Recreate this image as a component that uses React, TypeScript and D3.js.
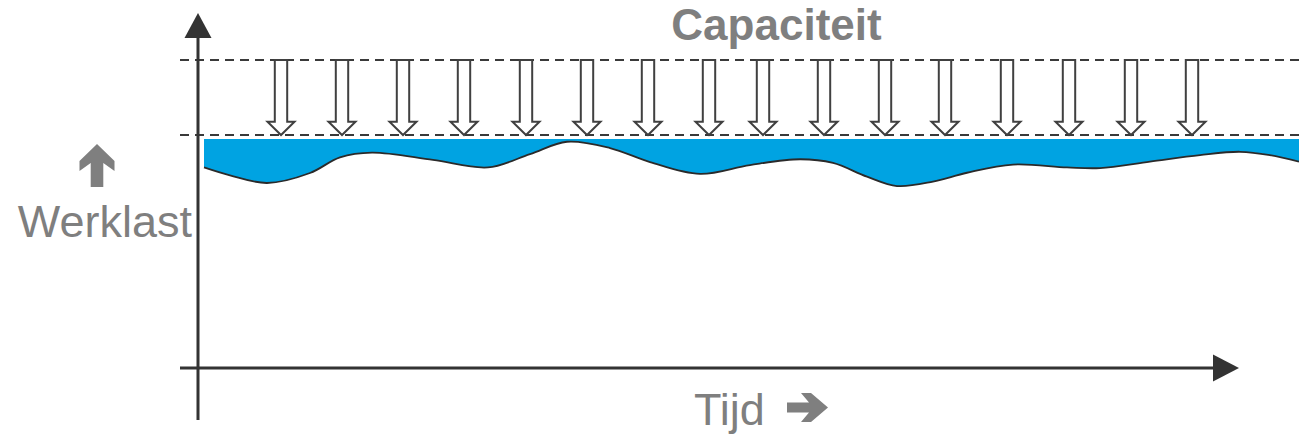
import React from "react";
import * as d3 from "d3";

const width = 1299;
const height = 439;

// time runs 0..110, workload 0..100 (100 = capacity)
const waveTime = [0.6, 3.2, 6.9, 11.2, 14.2, 17.4, 23.5, 29, 33.2, 36.9, 41.2, 45.2, 50.2, 55.2, 60.2, 63.5, 66.9, 69.9, 73.5, 76.9, 81.5, 86.9, 90.2, 95.2, 100.2, 104.2, 107.2, 110.1];
const waveLoad = [86.1, 82.7, 79.4, 83.7, 90.4, 92.4, 89.3, 86.1, 91.8, 97.1, 94.4, 88.4, 83.3, 87.1, 89.6, 88.0, 82.1, 78.1, 80.0, 83.8, 87.3, 86.1, 85.8, 88.6, 91.4, 92.8, 91.4, 88.6];
const arrowTimes = [8.3, 14.4, 20.5, 26.6, 32.8, 38.9, 45, 51.1, 56.5, 62.6, 68.7, 74.7, 80.9, 87.1, 93.3, 99.4];
const capacity = 100;
const capacityTop = 132.2;
const fillTop = 98.3;

const title = "Capaciteit";
const yLabel = "Werklast";
const xLabel = "Tijd";

const font = "'Liberation Sans', Arial, sans-serif";
const grey = "#7f7f7f";
const ink = "#333333";

const x = d3.scaleLinear().domain([0, 110]).range([198, 1298]);
const y = d3.scaleLinear().domain([0, 100]).range([368, 135]);

const wave = waveTime.map((t, i) => ({ t, v: waveLoad[i] }));

// thick "➔" style arrow, pointing right, tip at (len, 0)
function fatArrow(len: number, t: number, w: number) {
  const pts = [
    [0, -t], [len - 19, -t], [len - 27, -w], [len - 17, -w], [len, 0],
    [len - 17, w], [len - 27, w], [len - 19, t], [0, t],
  ];
  return "M" + pts.map((p) => p.join(",")).join("L") + "Z";
}

function hollowArrow(cx: number, top: number, tip: number) {
  const s = 6.2, h = 13.5, hl = 13.3;
  const pts = [
    [cx - s, top], [cx + s, top], [cx + s, tip - hl], [cx + h, tip - hl],
    [cx, tip], [cx - h, tip - hl], [cx - s, tip - hl],
  ];
  return "M" + pts.map((p) => p.join(",")).join("L") + "Z";
}

export default function App() {
  const area = d3
    .area<{ t: number; v: number }>()
    .x((d) => x(d.t))
    .y0((d) => y(d.v))
    .y1(y(fillTop))
    .curve(d3.curveCatmullRom);
  const line = d3
    .line<{ t: number; v: number }>()
    .x((d) => x(d.t))
    .y((d) => y(d.v))
    .curve(d3.curveCatmullRom);

  const x0 = x.range()[0];
  const y0 = y(0);

  return (
    <svg width={width} height={height} style={{ position: "absolute", left: 0, top: 0 }}>
      <rect width={width} height={height} fill="#fff" />

      {/* workload wave */}
      <path d={area(wave) ?? ""} fill="#00a3e2" />
      <path d={line(wave) ?? ""} fill="none" stroke="#2a2a2a" strokeWidth={1.8} />

      {/* capacity bounds */}
      {[capacityTop, capacity].map((v) => (
        <line key={v} x1={180} x2={width} y1={y(v)} y2={y(v)} stroke="#3a3a3a" strokeWidth={2} strokeDasharray="9,6" />
      ))}
      {arrowTimes.map((t) => (
        <path key={t} d={hollowArrow(x(t), y(capacityTop), y(capacity))} fill="#fff" stroke="#404040" strokeWidth={2} />
      ))}

      {/* axes */}
      <line x1={x0} x2={x0} y1={36} y2={420} stroke={ink} strokeWidth={3} />
      <path d={`M${x0},13L${x0 + 13.5},38L${x0 - 13.5},38Z`} fill={ink} />
      <line x1={180} x2={1214} y1={y0} y2={y0} stroke={ink} strokeWidth={3} />
      <path d={`M1239,${y0}L1213,${y0 - 13.5}L1213,${y0 + 13.5}Z`} fill={ink} />

      {/* labels */}
      <text x={776.5} y={40} textAnchor="middle" fontFamily={font} fontWeight="bold" fontSize={44} fill={grey}>
        {title}
      </text>
      <text x={192} y={237} textAnchor="end" fontFamily={font} fontSize={45} fill={grey}>
        {yLabel}
      </text>
      <path d={fatArrow(43, 6.3, 17.5)} transform="translate(97,187) rotate(-90)" fill={grey} />
      <text x={694} y={425} fontFamily={font} fontSize={45} fill={grey}>
        {xLabel}
      </text>
      <path d={fatArrow(41, 5, 14.5)} transform="translate(787,407.5)" fill={grey} />
    </svg>
  );
}
